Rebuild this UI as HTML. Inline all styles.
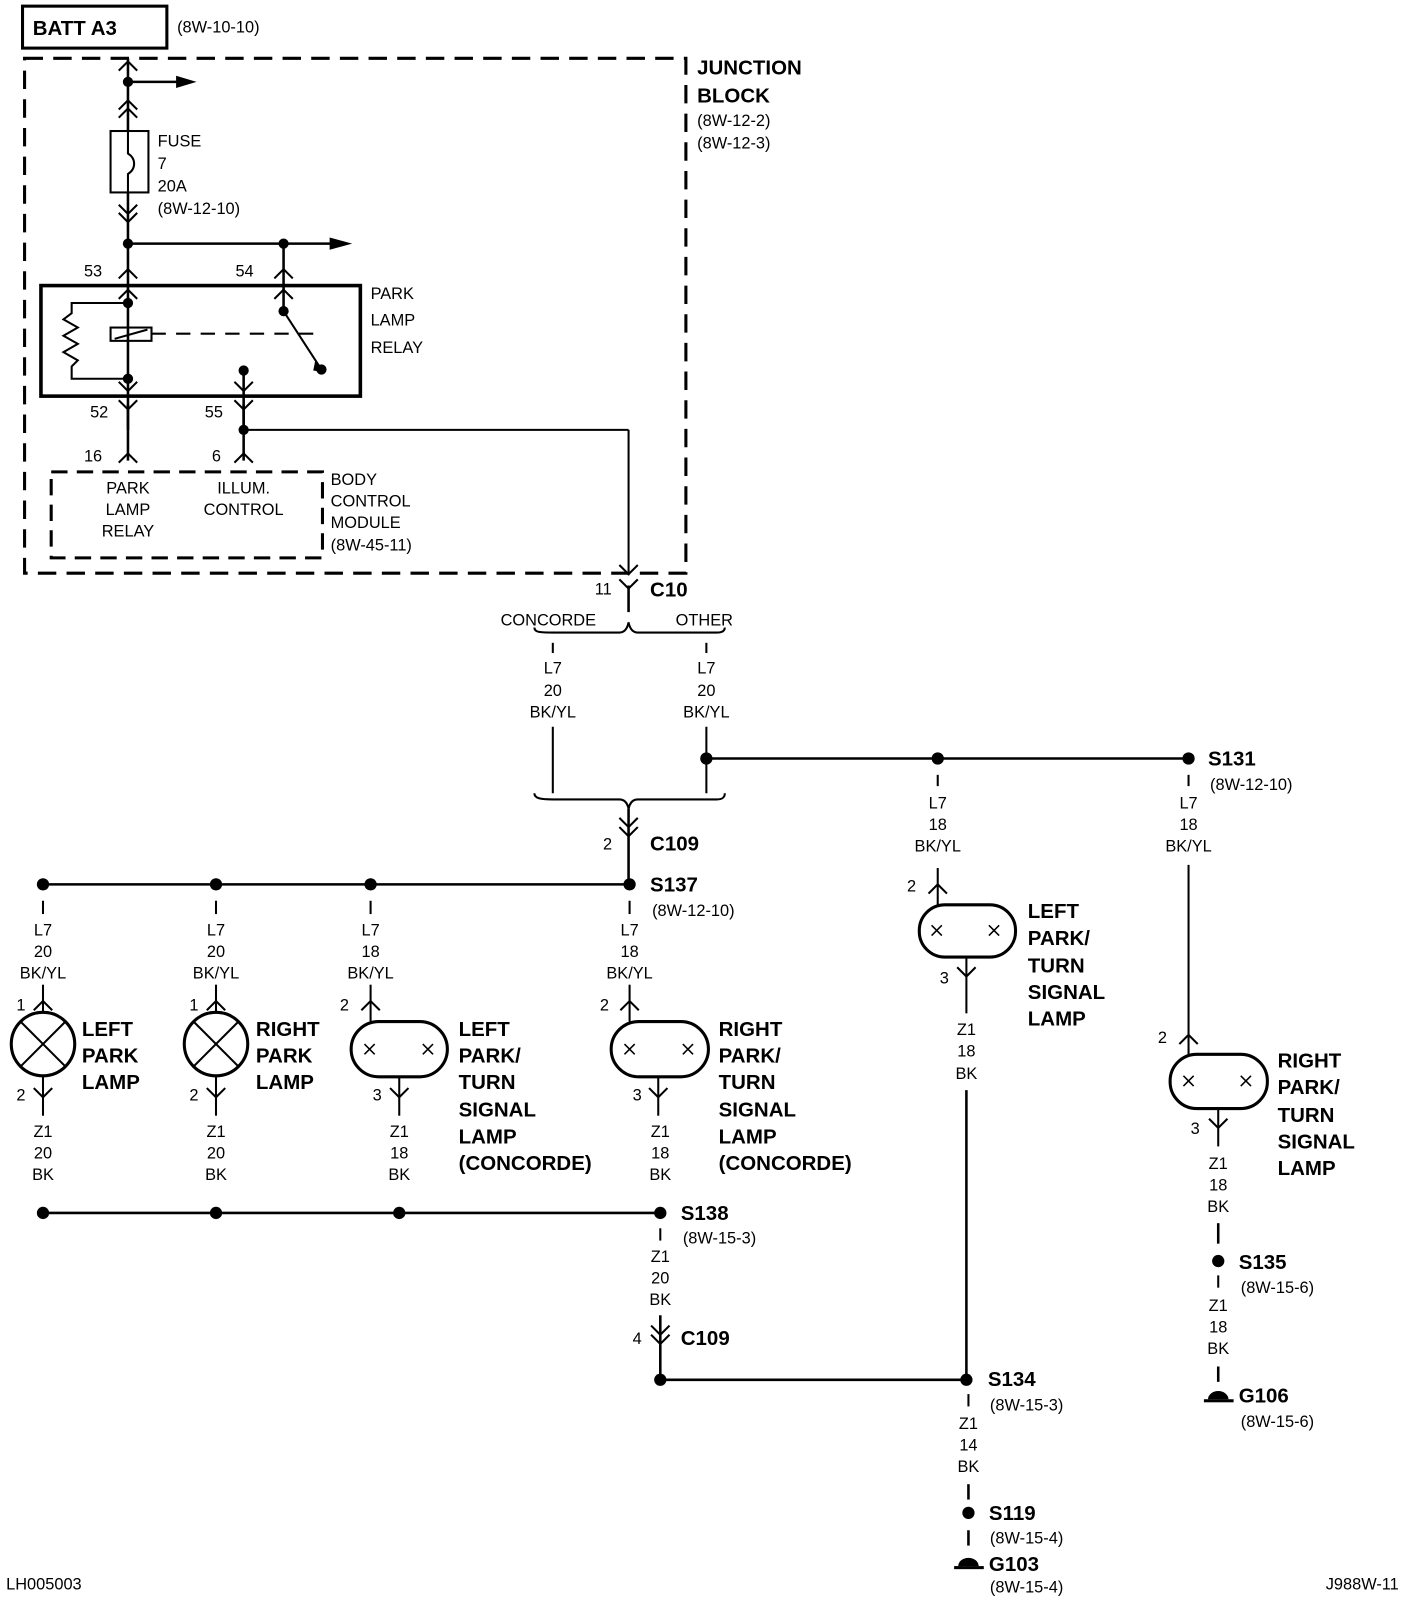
<!DOCTYPE html>
<html><head><meta charset="utf-8"><style>
html,body{margin:0;padding:0;background:#fff}
svg{display:block}
text{font-family:"Liberation Sans",Arial,sans-serif;font-size:16px;fill:#000}
.b{font-weight:bold;font-size:20px}
.c{text-anchor:middle}
</style></head><body>
<svg width="1424" height="1606" viewBox="0 0 1391 1569" preserveAspectRatio="none" xmlns="http://www.w3.org/2000/svg">
<defs>
<path id="up" d="M-9,7 L0,-2 L9,7" fill="none" stroke="#000" stroke-width="2"/>
<path id="dn" d="M-9,-7 L0,2 L9,-7" fill="none" stroke="#000" stroke-width="2"/>
</defs>
<g stroke="#000" fill="none" stroke-width="2.5">
<rect x="22" y="6" width="141" height="41" stroke-width="3"/>
<rect x="24" y="57" width="646" height="503" stroke-width="3" stroke-dasharray="18,10"/>
<rect x="50" y="461" width="265" height="84" stroke-width="3" stroke-dasharray="16,9"/>
<rect x="40" y="279" width="312" height="108" stroke-width="3.5"/>
<line x1="125" y1="57" x2="125" y2="128"/>
<line x1="125" y1="80" x2="175" y2="80"/>
<rect x="108" y="128" width="37" height="60" stroke-width="2"/>
<path d="M125,128 L125,150 C133,155 133,165 125,170 L125,188" stroke-width="2"/>
<line x1="125" y1="188" x2="125" y2="296"/>
<line x1="125" y1="238" x2="325" y2="238"/>
<line x1="277" y1="238" x2="277" y2="304"/>
<line x1="125" y1="296" x2="125" y2="420"/>
<path d="M125,296 L70,296 L70,306 L62,312 L76,320 L62,328 L76,336 L62,344 L76,352 L70,358 L70,370 L125,370" stroke-width="2"/>
<rect x="108" y="320" width="40" height="13" stroke-width="2"/>
<line x1="112" y1="331" x2="144" y2="322" stroke-width="2"/>
<line x1="148" y1="326" x2="310" y2="326" stroke-dasharray="14,10" stroke-width="2"/>
<line x1="277" y1="304" x2="314" y2="361" stroke-width="2"/>
<line x1="238" y1="362" x2="238" y2="420"/>
<line x1="238" y1="420" x2="614" y2="420" stroke-width="2"/>
<line x1="614" y1="420" x2="614" y2="562" stroke-width="2"/>
<line x1="125" y1="395" x2="125" y2="450"/>
<line x1="238" y1="395" x2="238" y2="450"/>
<line x1="614" y1="572" x2="614" y2="598"/>
<path d="M522,613 C522,618 528,618 540,618 L605,618 Q612,618 614,608 Q616,618 623,618 L700,618 C706,618 708,616 708,613" stroke-width="2"/>
<line x1="540" y1="628" x2="540" y2="638" stroke-width="2"/>
<line x1="690" y1="628" x2="690" y2="638" stroke-width="2"/>
<line x1="540" y1="710" x2="540" y2="775" stroke-width="2"/>
<line x1="690" y1="710" x2="690" y2="775" stroke-width="2"/>
<path d="M522,775 C522,780 528,781 540,781 L605,781 Q612,781 614,790 Q616,781 623,781 L700,781 C706,781 708,779 708,775" stroke-width="2"/>
<line x1="614" y1="790" x2="614" y2="864"/>
<line x1="690" y1="741" x2="1161" y2="741"/>
<line x1="916" y1="757" x2="916" y2="768" stroke-width="2"/>
<line x1="1161" y1="757" x2="1161" y2="768" stroke-width="2"/>
<line x1="916" y1="848" x2="916" y2="884" stroke-width="2"/>
<rect x="898" y="884" width="94" height="51" rx="25" stroke-width="3"/>
<line x1="944" y1="935" x2="944" y2="990" stroke-width="2"/>
<line x1="944" y1="1065" x2="944" y2="1348" stroke-width="2.5"/>
<line x1="1161" y1="845" x2="1161" y2="1030" stroke-width="2"/>
<rect x="1143" y="1030" width="95" height="53" rx="26" stroke-width="3"/>
<line x1="1190" y1="1083" x2="1190" y2="1120" stroke-width="2"/>
<line x1="1190" y1="1195" x2="1190" y2="1215" stroke-width="2.5"/>
<line x1="1190" y1="1246" x2="1190" y2="1258" stroke-width="2"/>
<line x1="1190" y1="1335" x2="1190" y2="1350" stroke-width="2.5"/>
<line x1="42" y1="864" x2="615" y2="864"/>
<g stroke-width="2">
<line x1="42" y1="880" x2="42" y2="893"/><line x1="211" y1="880" x2="211" y2="893"/>
<line x1="362" y1="880" x2="362" y2="893"/><line x1="615" y1="880" x2="615" y2="893"/>
<line x1="42" y1="962" x2="42" y2="990"/><line x1="211" y1="962" x2="211" y2="990"/>
<line x1="362" y1="962" x2="362" y2="998"/><line x1="615" y1="962" x2="615" y2="998"/>
<line x1="42" y1="1050" x2="42" y2="1090"/><line x1="211" y1="1050" x2="211" y2="1090"/>
<line x1="390" y1="1052" x2="390" y2="1090"/><line x1="643" y1="1052" x2="643" y2="1090"/>
</g>
<circle cx="42" cy="1020" r="31" stroke-width="3"/>
<line x1="20" y1="998" x2="64" y2="1042" stroke-width="2"/><line x1="64" y1="998" x2="20" y2="1042" stroke-width="2"/>
<circle cx="211" cy="1020" r="31" stroke-width="3"/>
<line x1="189" y1="998" x2="233" y2="1042" stroke-width="2"/><line x1="233" y1="998" x2="189" y2="1042" stroke-width="2"/>
<rect x="343" y="998" width="94" height="54" rx="27" stroke-width="3"/>
<rect x="597" y="998" width="95" height="54" rx="27" stroke-width="3"/>
<line x1="42" y1="1185" x2="645" y2="1185"/>
<line x1="645" y1="1200" x2="645" y2="1212" stroke-width="2"/>
<line x1="645" y1="1285" x2="645" y2="1348"/>
<line x1="645" y1="1348" x2="944" y2="1348"/>
<line x1="946" y1="1362" x2="946" y2="1374" stroke-width="2"/>
<line x1="946" y1="1450" x2="946" y2="1465" stroke-width="2.5"/>
<line x1="946" y1="1495" x2="946" y2="1510" stroke-width="2.5"/>
</g>
<g stroke="#000" stroke-width="1.5">
<path d="M910,904 l10,10 M920,904 l-10,10 M966,904 l10,10 M976,904 l-10,10"/>
<path d="M1156,1051 l10,10 M1166,1051 l-10,10 M1212,1051 l10,10 M1222,1051 l-10,10"/>
<path d="M356,1020 l10,10 M366,1020 l-10,10 M413,1020 l10,10 M423,1020 l-10,10"/>
<path d="M610,1020 l10,10 M620,1020 l-10,10 M667,1020 l10,10 M677,1020 l-10,10"/>
</g>
<g fill="#000">
<path d="M172,74 L192,80 L172,86 Z"/>
<path d="M322,232 L344,238 L322,244 Z"/>
<path d="M308,352 L318,364 L306,362 Z"/>
</g>
<use href="#up" x="125" y="62"/>
<use href="#up" x="125" y="100"/><use href="#up" x="125" y="108"/>
<use href="#dn" x="125" y="207"/><use href="#dn" x="125" y="215"/>
<use href="#up" x="125" y="265"/><use href="#up" x="277" y="265"/>
<use href="#up" x="125" y="285"/><use href="#up" x="277" y="285"/>
<use href="#dn" x="125" y="380"/><use href="#dn" x="238" y="380"/>
<use href="#dn" x="125" y="398"/><use href="#dn" x="238" y="398"/>
<use href="#up" x="125" y="445"/><use href="#up" x="238" y="445"/>
<use href="#dn" x="614" y="559"/>
<use href="#dn" x="614" y="573"/>
<use href="#dn" x="614" y="806"/><use href="#dn" x="614" y="815"/>
<use href="#up" x="916" y="866"/>
<use href="#dn" x="944" y="952"/>
<use href="#up" x="1161" y="1013"/>
<use href="#dn" x="1190" y="1100"/>
<use href="#up" x="42" y="980"/><use href="#up" x="211" y="980"/>
<use href="#up" x="362" y="980"/><use href="#up" x="615" y="980"/>
<use href="#dn" x="42" y="1070"/><use href="#dn" x="211" y="1070"/>
<use href="#dn" x="390" y="1070"/><use href="#dn" x="643" y="1070"/>
<use href="#dn" x="645" y="1302"/><use href="#dn" x="645" y="1311"/>
<g fill="#000">
<circle cx="125" cy="80" r="5"/><circle cx="125" cy="238" r="5"/><circle cx="277" cy="238" r="5"/>
<circle cx="125" cy="296" r="5"/><circle cx="277" cy="304" r="5"/><circle cx="314" cy="361" r="5"/>
<circle cx="238" cy="362" r="5"/><circle cx="125" cy="370" r="5"/><circle cx="238" cy="420" r="5"/>
<circle cx="690" cy="741" r="6"/><circle cx="916" cy="741" r="6"/><circle cx="1161" cy="741" r="6"/>
<circle cx="42" cy="864" r="6"/><circle cx="211" cy="864" r="6"/><circle cx="362" cy="864" r="6"/><circle cx="615" cy="864" r="6"/>
<circle cx="42" cy="1185" r="6"/><circle cx="211" cy="1185" r="6"/><circle cx="390" cy="1185" r="6"/><circle cx="645" cy="1185" r="6"/>
<circle cx="645" cy="1348" r="6"/><circle cx="944" cy="1348" r="6"/><circle cx="946" cy="1478" r="6"/>
<circle cx="1190" cy="1232" r="6"/>
<path d="M1180,1367 a10,8 0 0 1 20,0 Z"/><rect x="1176" y="1367" width="29" height="3"/>
<path d="M936,1530 a10,8 0 0 1 20,0 Z"/><rect x="932" y="1530" width="29" height="3"/>
</g>
<text class="b" x="32" y="34">BATT A3</text>
<text x="173" y="32">(8W-10-10)</text>
<text class="b" x="681" y="73">JUNCTION</text>
<text class="b" x="681" y="100">BLOCK</text>
<text x="681" y="123">(8W-12-2)</text>
<text x="681" y="145">(8W-12-3)</text>
<text x="154" y="143">FUSE</text><text x="154" y="165">7</text><text x="154" y="187">20A</text><text x="154" y="209">(8W-12-10)</text>
<text x="82" y="270">53</text><text x="230" y="270">54</text>
<text x="362" y="292">PARK</text><text x="362" y="318">LAMP</text><text x="362" y="345">RELAY</text>
<text x="88" y="408">52</text><text x="200" y="408">55</text>
<text x="82" y="451">16</text><text x="207" y="451">6</text>
<text class="c" x="125" y="482">PARK</text><text class="c" x="125" y="503">LAMP</text><text class="c" x="125" y="524">RELAY</text>
<text class="c" x="238" y="482">ILLUM.</text><text class="c" x="238" y="503">CONTROL</text>
<text x="323" y="474">BODY</text><text x="323" y="495">CONTROL</text><text x="323" y="516">MODULE</text><text x="323" y="538">(8W-45-11)</text>
<text x="581" y="581">11</text><text class="b" x="635" y="583">C10</text>
<text x="489" y="611">CONCORDE</text><text x="660" y="611">OTHER</text>
<text class="c" x="540" y="658">L7</text><text class="c" x="540" y="680">20</text><text class="c" x="540" y="701">BK/YL</text>
<text class="c" x="690" y="658">L7</text><text class="c" x="690" y="680">20</text><text class="c" x="690" y="701">BK/YL</text>
<text x="589" y="830">2</text><text class="b" x="635" y="831">C109</text>
<text class="b" x="1180" y="748">S131</text><text x="1182" y="772">(8W-12-10)</text>
<text class="c" x="916" y="790">L7</text><text class="c" x="916" y="811">18</text><text class="c" x="916" y="832">BK/YL</text>
<text class="c" x="1161" y="790">L7</text><text class="c" x="1161" y="811">18</text><text class="c" x="1161" y="832">BK/YL</text>
<text x="886" y="871">2</text>
<text class="b" x="1004" y="897">LEFT</text><text class="b" x="1004" y="923">PARK/</text><text class="b" x="1004" y="950">TURN</text><text class="b" x="1004" y="976">SIGNAL</text><text class="b" x="1004" y="1002">LAMP</text>
<text x="918" y="961">3</text>
<text class="c" x="944" y="1011">Z1</text><text class="c" x="944" y="1032">18</text><text class="c" x="944" y="1054">BK</text>
<text x="1131" y="1019">2</text>
<text class="b" x="1248" y="1043">RIGHT</text><text class="b" x="1248" y="1069">PARK/</text><text class="b" x="1248" y="1096">TURN</text><text class="b" x="1248" y="1122">SIGNAL</text><text class="b" x="1248" y="1148">LAMP</text>
<text x="1163" y="1108">3</text>
<text class="c" x="1190" y="1142">Z1</text><text class="c" x="1190" y="1163">18</text><text class="c" x="1190" y="1184">BK</text>
<text class="b" x="1210" y="1240">S135</text><text x="1212" y="1263">(8W-15-6)</text>
<text class="c" x="1190" y="1281">Z1</text><text class="c" x="1190" y="1302">18</text><text class="c" x="1190" y="1323">BK</text>
<text class="b" x="1210" y="1370">G106</text><text x="1212" y="1394">(8W-15-6)</text>
<text class="b" x="635" y="871">S137</text><text x="637" y="895">(8W-12-10)</text>
<text class="c" x="42" y="914">L7</text><text class="c" x="42" y="935">20</text><text class="c" x="42" y="956">BK/YL</text>
<text class="c" x="211" y="914">L7</text><text class="c" x="211" y="935">20</text><text class="c" x="211" y="956">BK/YL</text>
<text class="c" x="362" y="914">L7</text><text class="c" x="362" y="935">18</text><text class="c" x="362" y="956">BK/YL</text>
<text class="c" x="615" y="914">L7</text><text class="c" x="615" y="935">18</text><text class="c" x="615" y="956">BK/YL</text>
<text x="16" y="987">1</text><text x="185" y="987">1</text><text x="332" y="987">2</text><text x="586" y="987">2</text>
<text class="b" x="80" y="1012">LEFT</text><text class="b" x="80" y="1038">PARK</text><text class="b" x="80" y="1064">LAMP</text>
<text class="b" x="250" y="1012">RIGHT</text><text class="b" x="250" y="1038">PARK</text><text class="b" x="250" y="1064">LAMP</text>
<text class="b" x="448" y="1012">LEFT</text><text class="b" x="448" y="1038">PARK/</text><text class="b" x="448" y="1064">TURN</text><text class="b" x="448" y="1091">SIGNAL</text><text class="b" x="448" y="1117">LAMP</text><text class="b" x="448" y="1143">(CONCORDE)</text>
<text class="b" x="702" y="1012">RIGHT</text><text class="b" x="702" y="1038">PARK/</text><text class="b" x="702" y="1064">TURN</text><text class="b" x="702" y="1091">SIGNAL</text><text class="b" x="702" y="1117">LAMP</text><text class="b" x="702" y="1143">(CONCORDE)</text>
<text x="16" y="1075">2</text><text x="185" y="1075">2</text><text x="364" y="1075">3</text><text x="618" y="1075">3</text>
<text class="c" x="42" y="1111">Z1</text><text class="c" x="42" y="1132">20</text><text class="c" x="42" y="1153">BK</text>
<text class="c" x="211" y="1111">Z1</text><text class="c" x="211" y="1132">20</text><text class="c" x="211" y="1153">BK</text>
<text class="c" x="390" y="1111">Z1</text><text class="c" x="390" y="1132">18</text><text class="c" x="390" y="1153">BK</text>
<text class="c" x="645" y="1111">Z1</text><text class="c" x="645" y="1132">18</text><text class="c" x="645" y="1153">BK</text>
<text class="b" x="665" y="1192">S138</text><text x="667" y="1215">(8W-15-3)</text>
<text class="c" x="645" y="1233">Z1</text><text class="c" x="645" y="1254">20</text><text class="c" x="645" y="1275">BK</text>
<text x="618" y="1313">4</text><text class="b" x="665" y="1314">C109</text>
<text class="b" x="965" y="1354">S134</text><text x="967" y="1378">(8W-15-3)</text>
<text class="c" x="946" y="1396">Z1</text><text class="c" x="946" y="1417">14</text><text class="c" x="946" y="1438">BK</text>
<text class="b" x="966" y="1485">S119</text><text x="967" y="1508">(8W-15-4)</text>
<text class="b" x="966" y="1535">G103</text><text x="967" y="1556">(8W-15-4)</text>
<text x="6" y="1553">LH005003</text>
<text x="1295" y="1553">J988W-11</text>
</svg>
</body></html>
